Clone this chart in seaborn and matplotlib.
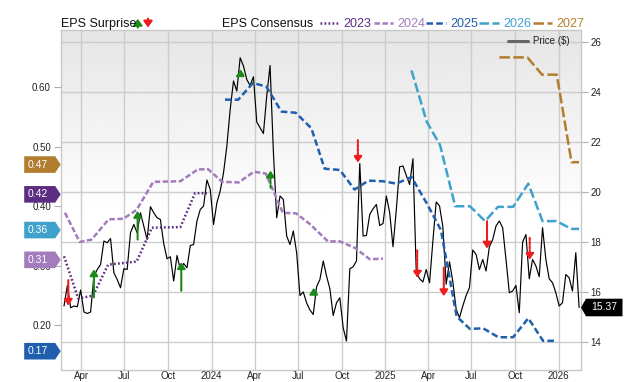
import numpy as np
import pandas as pd
import matplotlib
matplotlib.use("Agg")
import matplotlib.pyplot as plt
import matplotlib.dates as mdates
import matplotlib.transforms as mtransforms
from matplotlib.patches import Polygon, FancyArrowPatch
from matplotlib.lines import Line2D
from matplotlib.ticker import FuncFormatter
import seaborn as sns

# ---------------- data ----------------
price_start = "2023-02-24"   # weekly closes
price = [
    15.43, 16.25, 15.36, 15.43, 15.40, 16.07, 15.19, 15.13, 15.19, 16.63,
    16.89, 17.09, 18.03, 17.96, 18.13, 16.76, 16.49, 16.16, 16.92, 16.89,
    18.36, 18.69, 18.36, 19.16, 18.63, 18.09, 19.40, 19.16, 18.96, 18.89,
    17.93, 17.32, 17.40, 16.43, 17.45, 16.89, 17.13, 16.96, 17.85, 17.89,
    18.83, 19.29, 19.43, 20.47, 20.09, 18.69, 19.56, 20.03, 20.76, 21.83,
    23.29, 24.43, 24.03, 25.36, 25.03, 24.49, 24.25, 24.60, 22.79, 22.56,
    22.33, 23.83, 25.05, 21.60, 18.96, 19.83, 19.69, 18.23, 17.89, 18.43,
    17.56, 15.85, 15.99, 15.56, 15.27, 15.09, 16.20, 16.49, 17.23, 16.63,
    16.12, 15.05, 15.56, 15.76, 14.56, 14.03, 16.92, 17.00, 17.23, 21.13,
    18.23, 18.25, 19.09, 19.32, 19.49, 18.65, 18.73, 19.83, 19.16, 17.80,
    19.29, 21.00, 21.03, 20.65, 20.29, 21.32, 16.76, 16.52, 16.39, 16.89,
    16.36, 18.03, 19.59, 19.43, 18.60, 16.30, 17.20, 16.40, 15.30, 14.96,
    15.43, 15.85, 16.16, 17.67, 17.49, 16.89, 17.29, 16.83, 17.80, 18.09,
    18.63, 18.83, 18.56, 17.29, 15.96, 16.03, 16.25, 15.16, 17.99, 18.29,
    16.52, 17.29, 17.03, 16.60, 18.56, 17.29, 16.52, 16.36, 15.96, 15.43,
    15.56, 16.69, 16.56, 16.03, 17.56, 15.37,
]
last_price_label = "15.37"

c2023_dates = ["2023-02-24", "2023-03-26", "2023-04-26", "2023-05-28", "2023-07-27",
               "2023-08-28", "2023-10-27", "2023-11-27", "2023-12-22"]
c2023_vals = [0.316, 0.245, 0.250, 0.302, 0.307, 0.364, 0.365, 0.422, 0.422]

c2024_dates = ["2023-02-26", "2023-03-29", "2023-04-23", "2023-05-29", "2023-06-29",
               "2023-07-27", "2023-08-31", "2023-10-27", "2023-12-03", "2023-12-25",
               "2024-01-23", "2024-02-27", "2024-03-30", "2024-04-24", "2024-05-30",
               "2024-06-27", "2024-07-26", "2024-09-02", "2024-09-27", "2024-10-29",
               "2024-11-29", "2024-12-27"]
c2024_vals = [0.389, 0.340, 0.344, 0.378, 0.379, 0.394, 0.441, 0.442, 0.462, 0.462,
              0.441, 0.440, 0.458, 0.455, 0.389, 0.388, 0.370, 0.341, 0.341, 0.330,
              0.311, 0.312]

c2025_dates = ["2024-01-29", "2024-02-26", "2024-03-28", "2024-04-25", "2024-05-27",
               "2024-06-26", "2024-07-29", "2024-08-26", "2024-09-27", "2024-10-28",
               "2024-11-26", "2024-12-27", "2025-01-24", "2025-02-25", "2025-03-29",
               "2025-04-28", "2025-05-31", "2025-06-28", "2025-07-26", "2025-08-27",
               "2025-09-27", "2025-10-29", "2025-11-29", "2025-12-28"]
c2025_vals = [0.579, 0.579, 0.607, 0.601, 0.559, 0.557, 0.531, 0.463, 0.461, 0.428,
              0.443, 0.442, 0.438, 0.449, 0.405, 0.360, 0.215, 0.194, 0.195, 0.180,
              0.180, 0.212, 0.174, 0.174]

c2026_dates = ["2025-02-25", "2025-03-29", "2025-04-26", "2025-05-28", "2025-06-28",
               "2025-07-30", "2025-08-26", "2025-09-27", "2025-10-29", "2025-11-28",
               "2025-12-27", "2026-01-28", "2026-02-13"]
c2026_vals = [0.628, 0.542, 0.503, 0.400, 0.400, 0.375, 0.399, 0.399, 0.438, 0.375,
              0.375, 0.362, 0.362]

c2027_dates = ["2025-08-29", "2025-10-27", "2025-11-27", "2025-12-28", "2026-01-28", "2026-02-13"]
c2027_vals = [0.650, 0.650, 0.621, 0.621, 0.474, 0.474]

series_names = ["2023", "2024", "2025", "2026", "2027"]
series_labels = ["0.42", "0.31", "0.17", "0.36", "0.47"]

surprise_dates = ["2023-03-05", "2023-04-28", "2023-07-29", "2023-10-29", "2024-03-02",
                  "2024-05-04", "2024-08-03", "2024-11-04", "2025-03-09", "2025-05-04",
                  "2025-08-03", "2025-11-01"]
surprise_from = [0.276, 0.247, 0.344, 0.258, 0.619, 0.431, 0.252, 0.511, 0.326, 0.297, 0.375, 0.347]
surprise_to = [0.233, 0.294, 0.392, 0.306, 0.630, 0.460, 0.263, 0.473, 0.280, 0.249, 0.329, 0.310]
surprise_dotted = [False, False, False, False, True, True, False, True, True, False, False, True]

price_ticks = [14, 16, 18, 20, 22, 24, 26]
eps_ticks = [0.20, 0.30, 0.40, 0.50, 0.60]

# ---------------- styles ----------------
colors = {"2023": "#5c2d83", "2024": "#a47bbd", "2025": "#1f5fae",
          "2026": "#3fa2cd", "2027": "#b27d2f"}
dashes = {"2023": (0.7, 0.9), "2024": (2.2, 1.0), "2025": (2.6, 1.3),
          "2026": (3.8, 1.4), "2027": (4.2, 1.4)}
GREEN = "#1b8a1b"
RED = "#ee1c1c"

sns.set_theme(style="white")
plt.rcParams["font.family"] = ["Liberation Sans", "DejaVu Sans"]

W, H = 640, 382
fig = plt.figure(figsize=(W / 100, H / 100), dpi=100)
L, R, T, B = 60.7, 581.0, 30.0, 370.0
pos = [L / W, 1 - B / H, (R - L) / W, (B - T) / H]


def fx(x):
    return x / W


def fy(y):
    return 1 - y / H


# gradient background
bg = fig.add_axes(pos, zorder=0)
t = np.linspace(0, 1, 300)
g = 0.898 + (1 - 0.898) * np.clip(t / 0.55, 0, 1)
bg.imshow(g.reshape(-1, 1), cmap="gray", vmin=0, vmax=1, aspect="auto",
          extent=[0, 1, 0, 1], interpolation="bilinear")
bg.axis("off")

ax = fig.add_axes(pos, zorder=1)
ax.patch.set_alpha(0)

dates_p = pd.date_range(price_start, periods=len(price), freq="7D")
df_p = pd.DataFrame({"date": dates_p, "price": price})
sns.lineplot(data=df_p, x="date", y="price", ax=ax, color="black", lw=0.85,
             estimator=None, zorder=3)

ax2 = ax.twinx()
ax.yaxis.tick_right()
ax2.yaxis.tick_left()

series = {"2023": (c2023_dates, c2023_vals), "2024": (c2024_dates, c2024_vals),
          "2025": (c2025_dates, c2025_vals), "2026": (c2026_dates, c2026_vals),
          "2027": (c2027_dates, c2027_vals)}
for name in series_names:
    d, v = series[name]
    df = pd.DataFrame({"date": pd.to_datetime(d), "eps": v})
    n0 = len(ax2.lines)
    sns.lineplot(data=df, x="date", y="eps", ax=ax2, color=colors[name], lw=1.8,
                 estimator=None)
    ln = ax2.lines[n0]
    ln.set_dashes(dashes[name])
    ln.set_dash_capstyle("butt")

# surprise arrows
for d, a, b, dot in zip(surprise_dates, surprise_from, surprise_to, surprise_dotted):
    xd = mdates.date2num(pd.Timestamp(d))
    c = GREEN if b > a else RED
    ax2.annotate("", xy=(xd, b), xytext=(xd, a),
                 arrowprops=dict(arrowstyle="-|>,head_width=0.2,head_length=0.3",
                                 color=c, lw=1.5, linestyle=(0, (1.2, 0.8)) if dot else "-",
                                 shrinkA=0, shrinkB=0), zorder=5)

# axes limits / ticks
ax.set_xlim(pd.Timestamp("2023-02-17"), pd.Timestamp("2026-02-17"))
ax.set_ylim(12.87, 26.47)
ax2.set_ylim(0.125, 0.696)
ax.set_yticks(price_ticks)
ax.yaxis.set_major_formatter(FuncFormatter(lambda v, p: f"{v:.0f}"))
ax2.set_yticks(eps_ticks)
ax2.yaxis.set_major_formatter(FuncFormatter(lambda v, p: f"{v:.2f}"))

ax.xaxis.set_major_locator(mdates.MonthLocator(bymonth=[1, 4, 7, 10]))


def datefmt(x, p):
    d = mdates.num2date(x)
    return str(d.year) if d.month == 1 else d.strftime("%b")


ax.xaxis.set_major_formatter(FuncFormatter(datefmt))
for a_ in (ax, ax2):
    a_.set_xlabel("")
    a_.set_ylabel("")

ax.grid(True, color="#cccccc", lw=1.0)
ax2.grid(False)
ax.set_axisbelow(True)

ax.tick_params(axis="y", which="both", right=True, left=False, labelright=True,
               labelleft=False, length=5, width=0.8, color="#b0b0b0", labelsize=7,
               pad=2, labelcolor="#222222")
ax.tick_params(axis="x", length=0, labelsize=7, pad=1, labelcolor="#222222")
ax2.tick_params(axis="y", which="both", left=True, right=False, labelleft=True,
                labelright=False, length=5, width=0.8, color="#b0b0b0", labelsize=7,
                pad=2, labelcolor="#222222")
for s in ax.spines.values():
    s.set_color("#c8c8c8")
    s.set_linewidth(1.0)
for s in ax2.spines.values():
    s.set_visible(False)

# left value tags
for name, lab in zip(series_names, series_labels):
    v = float(lab)
    dy = -8 if v < 0.2 else 0
    trans = mtransforms.Affine2D().translate(0, dy) + mtransforms.ScaledTranslation(
        0, v, ax2.get_yaxis_transform())
    pts = [(-36.5, -8.3), (-5.5, -8.3), (0, 0), (-5.5, 8.3), (-36.5, 8.3)]
    poly = Polygon(pts, closed=True, transform=trans, facecolor=colors[name],
                   edgecolor="none", clip_on=False, zorder=10)
    ax2.add_artist(poly)
    ax2.annotate(lab, xy=(0, v), xycoords=ax2.get_yaxis_transform(),
                 xytext=(-33.5, dy), textcoords="offset pixels", ha="left",
                 va="center", color="white", fontsize=7.5, annotation_clip=False,
                 zorder=11)

# right price tag
pv = price[-1]
trans = mtransforms.Affine2D() + mtransforms.ScaledTranslation(1, pv, ax.get_yaxis_transform())
pts = [(0, 0), (5, -8.8), (41.5, -8.8), (41.5, 8.8), (5, 8.8)]
ax.add_artist(Polygon(pts, closed=True, transform=trans, facecolor="black",
                      edgecolor="none", clip_on=False, zorder=10))
ax.annotate(last_price_label, xy=(1, pv), xycoords=ax.get_yaxis_transform(),
            xytext=(23, 0), textcoords="offset pixels", ha="center", va="center",
            color="white", fontsize=7.5, annotation_clip=False, zorder=11)

# top legend
base_y = 27.3
fig.text(fx(60.7), fy(base_y), "EPS Surprise", fontsize=9, va="baseline", ha="left",
         color="#111111")
fig.add_artist(FancyArrowPatch((fx(137.8), fy(27.5)), (fx(137.8), fy(18.8)),
                               transform=fig.transFigure,
                               arrowstyle="-|>,head_width=2.6,head_length=3.6",
                               color=GREEN, lw=1.6, shrinkA=0, shrinkB=0))
fig.add_artist(FancyArrowPatch((fx(148.0), fy(18.8)), (fx(148.0), fy(27.5)),
                               transform=fig.transFigure,
                               arrowstyle="-|>,head_width=2.6,head_length=3.6",
                               color=RED, lw=1.6, shrinkA=0, shrinkB=0))
fig.text(fx(222), fy(base_y), "EPS Consensus", fontsize=9, va="baseline", ha="left",
         color="#111111")
leg_pos = {"2023": (320, 343), "2024": (374, 397), "2025": (426, 450),
           "2026": (479, 503), "2027": (533, 556)}
for name in series_names:
    x0, xt = leg_pos[name]
    ln = Line2D([fx(x0), fx(xt - 4)], [fy(23.0), fy(23.0)], transform=fig.transFigure,
                color=colors[name], lw=1.8)
    ln.set_dashes(dashes[name])
    ln.set_dash_capstyle("butt")
    fig.add_artist(ln)
    fig.text(fx(xt), fy(base_y), name, fontsize=9, va="baseline", ha="left",
             color=colors[name])

# price legend inside plot
fig.add_artist(Line2D([fx(508), fx(528)], [fy(41.0), fy(41.0)], transform=fig.transFigure,
                      color="#666666", lw=2.2))
fig.text(fx(533), fy(41.0), "Price ($)", fontsize=7, va="center", ha="left",
         color="#222222")

fig.savefig("out.png", dpi=100)
